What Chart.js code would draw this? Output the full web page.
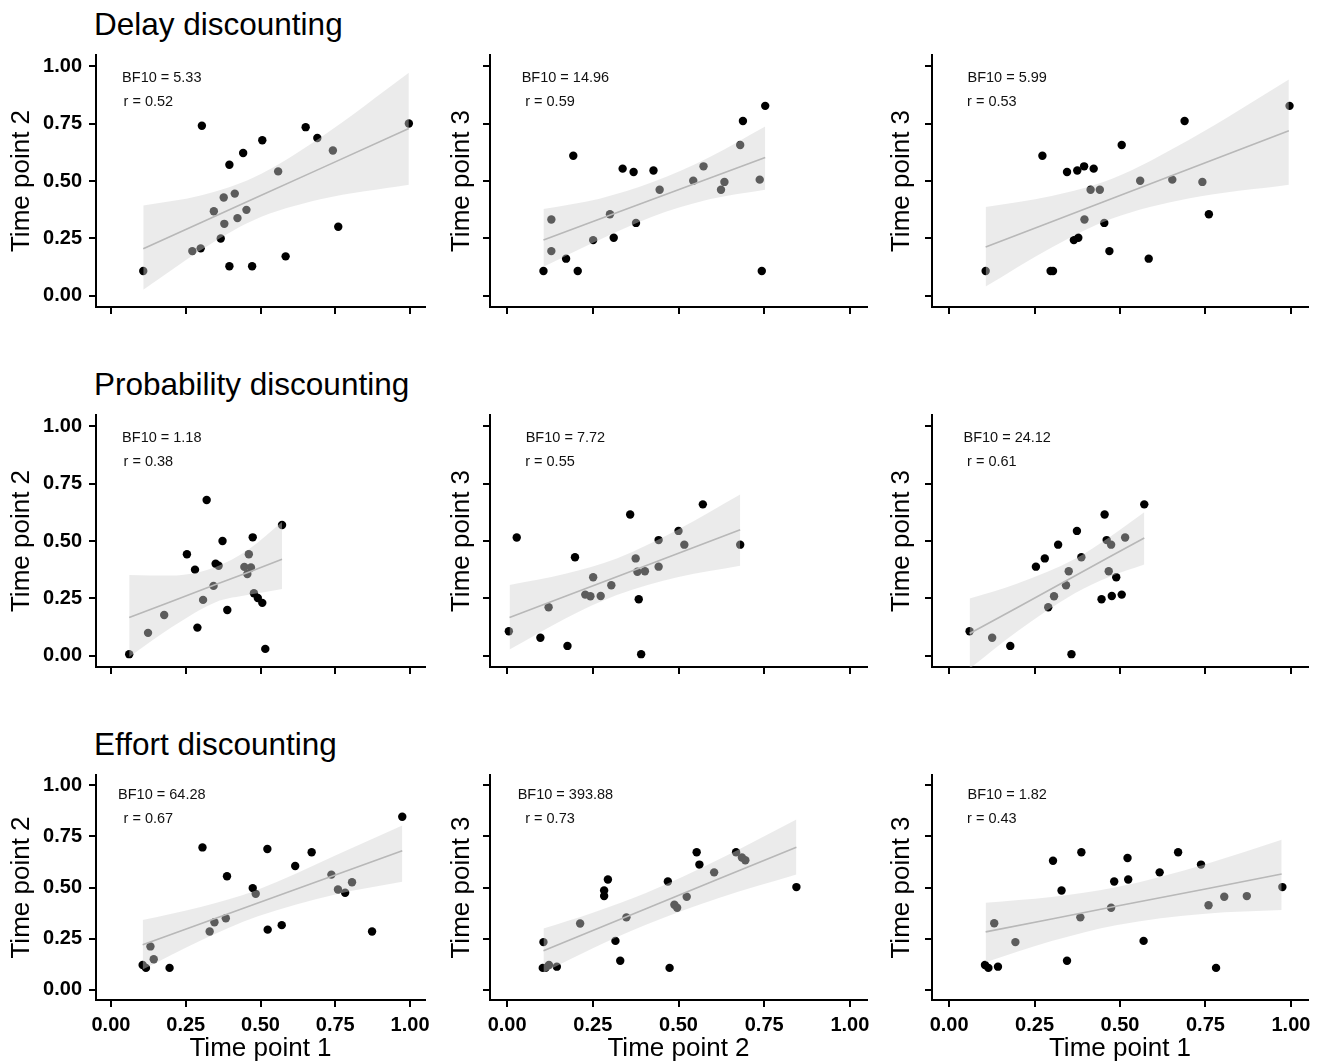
<!DOCTYPE html>
<html>
<head>
<meta charset="utf-8">
<script src="https://cdn.jsdelivr.net/npm/chart.js@4.4.0/dist/chart.umd.min.js"></script>
<style>
 body{margin:0;background:#fff;}
 #wrap{position:relative;width:1323px;height:1064px;overflow:hidden;}
 #wrap canvas{position:absolute;}
 .ttl{position:absolute;left:94px;font:31.5px/30px "Liberation Sans",Arial,sans-serif;color:#000;white-space:nowrap;}
</style>
</head>
<body>
<div id="wrap">
 <div class="ttl" style="top:9px">Delay discounting</div>
 <div class="ttl" style="top:369px">Probability discounting</div>
 <div class="ttl" style="top:729px">Effort discounting</div>
</div>
<script>
var FONT='"Liberation Sans", Arial, sans-serif';

var tickValues=[0,0.25,0.5,0.75,1];
var bf10=[5.33,14.96,5.99,1.18,7.72,24.12,64.28,393.88,1.82];
var rValues=[0.52,0.59,0.53,0.38,0.55,0.61,0.67,0.73,0.43];
var yTitles=["Time point 2","Time point 3","Time point 3"];
var xTitles=["Time point 1","Time point 2","Time point 1"];

// [x, y] per participant
var delay12=[[0.108,0.107],[0.272,0.194],[0.30,0.206],[0.304,0.741],[0.344,0.368],[0.367,0.249],[0.377,0.428],[0.379,0.313],[0.396,0.571],[0.396,0.128],[0.414,0.445],[0.423,0.338],[0.442,0.622],[0.453,0.374],[0.472,0.128],[0.506,0.678],[0.559,0.542],[0.584,0.171],[0.651,0.735],[0.69,0.688],[0.742,0.633],[0.76,0.30],[0.996,0.751]];
var delay23=[[0.106,0.107],[0.129,0.332],[0.129,0.194],[0.172,0.161],[0.193,0.61],[0.206,0.107],[0.251,0.242],[0.30,0.355],[0.311,0.252],[0.337,0.554],[0.369,0.539],[0.376,0.317],[0.427,0.546],[0.445,0.462],[0.543,0.501],[0.573,0.564],[0.624,0.462],[0.634,0.496],[0.68,0.657],[0.688,0.762],[0.737,0.506],[0.743,0.107],[0.753,0.828]];
var delay13=[[0.107,0.107],[0.273,0.61],[0.297,0.107],[0.304,0.107],[0.345,0.539],[0.365,0.242],[0.375,0.546],[0.378,0.252],[0.395,0.564],[0.396,0.332],[0.414,0.462],[0.423,0.554],[0.441,0.462],[0.454,0.317],[0.469,0.194],[0.505,0.657],[0.559,0.501],[0.584,0.161],[0.653,0.506],[0.689,0.762],[0.741,0.496],[0.76,0.355],[0.996,0.828]];
var prob12=[[0.061,0.006],[0.124,0.099],[0.178,0.177],[0.254,0.442],[0.281,0.375],[0.289,0.122],[0.308,0.243],[0.32,0.679],[0.343,0.304],[0.35,0.401],[0.36,0.392],[0.373,0.50],[0.389,0.199],[0.446,0.387],[0.461,0.442],[0.456,0.356],[0.468,0.384],[0.474,0.516],[0.478,0.272],[0.491,0.251],[0.506,0.23],[0.516,0.029],[0.572,0.57]];
var prob23=[[0.005,0.106],[0.028,0.515],[0.097,0.078],[0.121,0.211],[0.176,0.042],[0.198,0.429],[0.228,0.266],[0.243,0.259],[0.251,0.342],[0.273,0.26],[0.304,0.307],[0.359,0.616],[0.375,0.424],[0.38,0.366],[0.384,0.246],[0.391,0.006],[0.402,0.368],[0.442,0.504],[0.442,0.388],[0.50,0.544],[0.517,0.484],[0.571,0.66],[0.68,0.484]];
var prob13=[[0.06,0.106],[0.126,0.078],[0.179,0.042],[0.254,0.388],[0.28,0.424],[0.29,0.211],[0.307,0.259],[0.319,0.484],[0.342,0.307],[0.35,0.368],[0.358,0.006],[0.374,0.544],[0.387,0.429],[0.446,0.246],[0.455,0.616],[0.461,0.504],[0.467,0.368],[0.474,0.484],[0.476,0.26],[0.489,0.342],[0.505,0.266],[0.515,0.515],[0.571,0.66]];
var effort12=[[0.106,0.121],[0.117,0.107],[0.132,0.212],[0.143,0.149],[0.196,0.107],[0.306,0.696],[0.33,0.285],[0.346,0.33],[0.384,0.35],[0.388,0.555],[0.474,0.497],[0.484,0.469],[0.523,0.688],[0.524,0.294],[0.571,0.316],[0.616,0.605],[0.671,0.672],[0.737,0.563],[0.759,0.49],[0.783,0.474],[0.806,0.526],[0.873,0.285],[0.974,0.846]];
var effort23=[[0.104,0.107],[0.106,0.233],[0.112,0.107],[0.122,0.121],[0.145,0.113],[0.213,0.324],[0.283,0.458],[0.283,0.485],[0.294,0.539],[0.316,0.239],[0.33,0.142],[0.348,0.354],[0.469,0.529],[0.474,0.107],[0.488,0.416],[0.496,0.401],[0.524,0.455],[0.553,0.672],[0.561,0.612],[0.604,0.574],[0.668,0.672],[0.685,0.647],[0.695,0.633],[0.844,0.502]];
var effort13=[[0.105,0.121],[0.115,0.107],[0.132,0.325],[0.143,0.113],[0.194,0.233],[0.304,0.631],[0.329,0.485],[0.345,0.142],[0.384,0.354],[0.387,0.672],[0.474,0.401],[0.483,0.529],[0.522,0.644],[0.524,0.539],[0.569,0.239],[0.616,0.574],[0.67,0.672],[0.737,0.612],[0.759,0.413],[0.781,0.107],[0.805,0.455],[0.871,0.458],[0.975,0.502]];

// linear fit with 95% band: [x, fit, lower, upper]
var delay12Fit=[[0.108,0.204,0.025,0.393],[0.3,0.318,0.198,0.437],[0.475,0.421,0.328,0.514],[0.7,0.554,0.420,0.689],[0.996,0.729,0.484,0.972]];
var delay23Fit=[[0.106,0.242,0.126,0.378],[0.27,0.334,0.244,0.423],[0.423,0.419,0.344,0.494],[0.59,0.512,0.42,0.604],[0.753,0.603,0.462,0.738]];
var delay13Fit=[[0.107,0.212,0.039,0.387],[0.3,0.322,0.21,0.435],[0.475,0.422,0.335,0.509],[0.7,0.551,0.424,0.678],[0.994,0.719,0.484,0.943]];
var prob12Fit=[[0.061,0.166,-0.006,0.352],[0.2,0.235,0.121,0.349],[0.35,0.31,0.233,0.387],[0.46,0.364,0.265,0.463],[0.572,0.42,0.291,0.583]];
var prob23Fit=[[0.007,0.166,0.026,0.308],[0.17,0.259,0.162,0.357],[0.32,0.344,0.264,0.424],[0.5,0.447,0.343,0.551],[0.68,0.549,0.392,0.703]];
var prob13Fit=[[0.06,0.096,-0.057,0.249],[0.2,0.21,0.106,0.315],[0.369,0.348,0.273,0.423],[0.47,0.431,0.344,0.518],[0.571,0.513,0.397,0.626]];
var effort12Fit=[[0.106,0.22,0.099,0.341],[0.3,0.323,0.241,0.405],[0.489,0.423,0.358,0.488],[0.75,0.561,0.466,0.656],[0.974,0.68,0.528,0.803]];
var effort23Fit=[[0.106,0.191,0.083,0.299],[0.25,0.29,0.203,0.377],[0.405,0.396,0.318,0.473],[0.62,0.544,0.45,0.639],[0.844,0.697,0.563,0.833]];
var effort13Fit=[[0.107,0.283,0.134,0.426],[0.3,0.346,0.238,0.454],[0.488,0.408,0.316,0.501],[0.75,0.493,0.372,0.614],[0.973,0.566,0.39,0.733]];

var panels=[[delay12,delay12Fit],[delay23,delay23Fit],[delay13,delay13Fit],
            [prob12,prob12Fit],[prob23,prob23Fit],[prob13,prob13Fit],
            [effort12,effort12Fit],[effort23,effort23Fit],[effort13,effort13Fit]];

// canvas boxes for the grid
var colLeft=[0,440,880], colWidth=[430,432,433], colAxisW=[96,50,52];
var rowTop=[50,410,770], rowHeight=[269,269,294], rowAxisH=[12,12,64];

// BF10 / r text in the upper left of each panel
var statsText={
 id:'statsText',
 afterDraw:function(chart){
  var o=chart.options.plugins.statsText;
  var ctx=chart.ctx, xs=chart.scales.x, ys=chart.scales.y;
  var py=ys.getPixelForValue(0.95);
  ctx.save();
  ctx.font='14.5px '+FONT;
  ctx.fillStyle='#111';
  ctx.textAlign='center';
  ctx.textBaseline='middle';
  ctx.fillText('BF10 = '+o.bf.toFixed(2),xs.getPixelForValue(0.17),py);
  ctx.fillText('r = '+o.r.toFixed(2),xs.getPixelForValue(0.125),py+24);
  ctx.restore();
 }
};

function xy(arr,i,j){
 return arr.map(function(p){return {x:p[i],y:p[j]};});
}

// no extra room for overhanging tick labels, the boxes are fixed
function noPad(s){
 s.paddingTop=0; s.paddingBottom=0; s.paddingLeft=0; s.paddingRight=0;
}

function panel(row,col)
{
 var k=row*3+col;
 var pts=panels[k][0], fit=panels[k][1];
 var cv=document.createElement('canvas');
 cv.width=colWidth[col]; cv.height=rowHeight[row];
 cv.style.left=colLeft[col]+'px'; cv.style.top=rowTop[row]+'px';
 cv.style.width=colWidth[col]+'px'; cv.style.height=rowHeight[row]+'px';
 document.getElementById('wrap').appendChild(cv);

 var last=(row==2);
 new Chart(cv,{
  type:'scatter',
  data:{
   datasets:[
    {data:xy(pts,0,1),pointRadius:4.2,pointBackgroundColor:'#000',pointBorderWidth:0,order:3},
    {type:'line',data:xy(fit,0,3),borderWidth:0,borderColor:'rgba(0,0,0,0)',pointRadius:0,
     fill:'+1',backgroundColor:'rgba(210,210,210,0.44)',cubicInterpolationMode:'monotone',order:2},
    {type:'line',data:xy(fit,0,2),borderWidth:0,borderColor:'rgba(0,0,0,0)',pointRadius:0,
     fill:false,cubicInterpolationMode:'monotone',order:2},
    {type:'line',data:xy(fit,0,1),borderColor:'#b8b8b8',borderWidth:1.6,pointRadius:0,fill:false,tension:0,order:1}
   ]
  },
  options:{
   responsive:false,
   animation:false,
   events:[],
   layout:{padding:{top:5,right:5,left:0,bottom:0}},
   plugins:{legend:{display:false},tooltip:{enabled:false},statsText:{bf:bf10[k],r:rValues[k]}},
   scales:{
    x:{
     type:'linear',min:-0.05,max:1.05,
     afterBuildTicks:function(s){s.ticks=tickValues.map(function(v){return {value:v};});},
     afterFit:function(s){s.height=rowAxisH[row]; noPad(s);},
     ticks:{display:last,callback:function(v){return v.toFixed(2);},color:'#000',
       font:{family:FONT,size:20,weight:'bold'},padding:6,maxRotation:0,autoSkip:false},
     grid:{drawOnChartArea:false,drawTicks:true,tickLength:7,color:'#000',lineWidth:2},
     border:{display:true,color:'#000',width:2},
     title:{display:last,text:xTitles[col],color:'#000',font:{family:FONT,size:26},padding:{top:0,bottom:0}}
    },
    y:{
     type:'linear',min:-0.05,max:1.05,
     afterBuildTicks:function(s){s.ticks=tickValues.map(function(v){return {value:v};});},
     afterFit:function(s){s.width=colAxisW[col]; noPad(s);},
     ticks:{display:col==0,callback:function(v){return v.toFixed(2);},color:'#000',
       font:{family:FONT,size:20,weight:'bold'},padding:7},
     grid:{drawOnChartArea:false,drawTicks:true,tickLength:7,color:'#000',lineWidth:2},
     border:{display:true,color:'#000',width:2},
     title:{display:true,text:yTitles[col],color:'#000',font:{family:FONT,size:26},padding:{top:6.5,bottom:0}}
    }
   }
  },
  plugins:[statsText]
 });
}

for(var r=0;r<3;r++)
 for(var c=0;c<3;c++)
  panel(r,c);
</script>
</body>
</html>
